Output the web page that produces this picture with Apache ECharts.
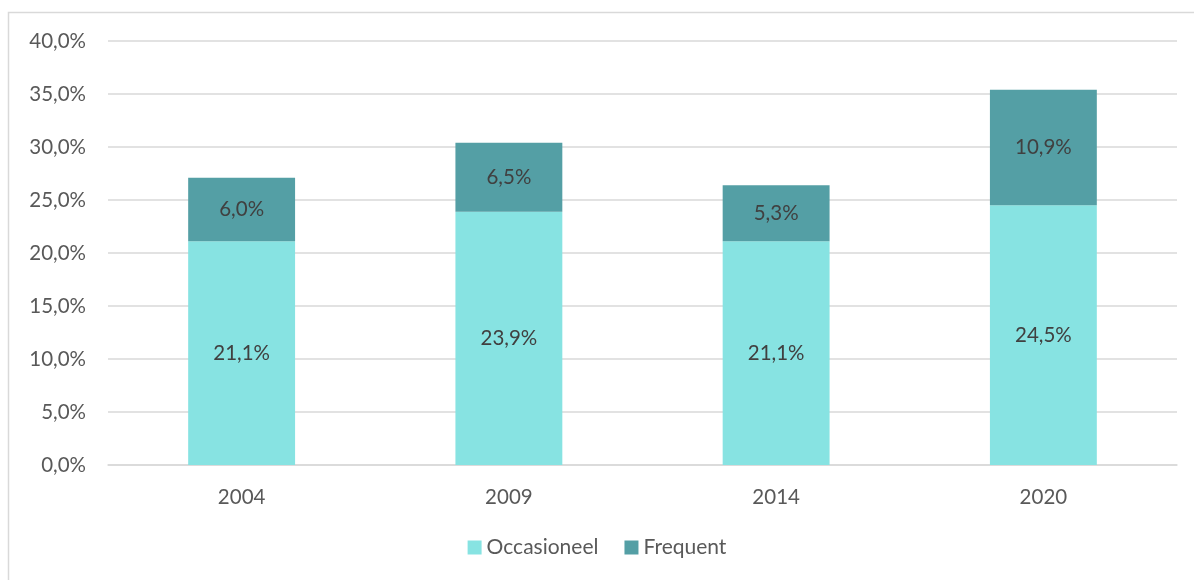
<!DOCTYPE html>
<html><head><meta charset="utf-8">
<script src="https://cdn.jsdelivr.net/npm/echarts@6/dist/echarts.min.js"></script>
<style>html,body{margin:0;padding:0;background:#fff}#c{width:1194px;height:580px}</style>
</head><body><div id="c"></div>
<script>
const categories = ['2004', '2009', '2014', '2020'];
const occasioneel = [21.1, 23.9, 21.1, 24.5];
const frequent = [6.0, 6.5, 5.3, 10.9];
const yTicks = [0, 5, 10, 15, 20, 25, 30, 35, 40];

const fmt = v => v.toFixed(1).replace('.', ',') + '%';
const FONT = 'Lato';
const chart = echarts.init(document.getElementById('c'));
chart.setOption({
  animation: false,
  textStyle: { fontFamily: FONT },
  graphic: [{ type: 'rect', shape: { x: 8.5, y: 12.5, width: 1300, height: 700 }, style: { fill: 'none', stroke: '#d9d9d9', lineWidth: 1.5 }, silent: true, z: -10 }],
  grid: { left: 108, right: 17, top: 41, bottom: 115 },
  legend: {
    bottom: 17, left: 'center', itemWidth: 14, itemHeight: 14, itemGap: 26,
    icon: 'rect',
    textStyle: { fontSize: 21, color: '#595959', fontFamily: FONT },
    data: ['Occasioneel', 'Frequent']
  },
  xAxis: {
    type: 'category', data: categories,
    axisLine: { lineStyle: { color: '#d9d9d9', width: 1.5 } },
    axisTick: { show: false },
    axisLabel: { fontSize: 20.5, color: '#595959', margin: 22 }
  },
  yAxis: {
    type: 'value', min: yTicks[0], max: yTicks[yTicks.length - 1], interval: 5,
    axisLine: { show: false }, axisTick: { show: false },
    splitLine: { lineStyle: { color: '#d9d9d9', width: 1.5 } },
    axisLabel: { fontSize: 20.5, color: '#595959', margin: 22, formatter: v => fmt(v) }
  },
  series: [
    { name: 'Occasioneel', type: 'bar', stack: 's', data: occasioneel, barWidth: '40%',
      itemStyle: { color: '#87e3e2' },
      label: { show: true, position: 'inside', color: '#404040', fontSize: 20.5, formatter: p => fmt(p.value) } },
    { name: 'Frequent', type: 'bar', stack: 's', data: frequent, barWidth: '40%',
      itemStyle: { color: '#549fa5' },
      label: { show: true, position: 'inside', color: '#404040', fontSize: 20.5, formatter: p => fmt(p.value) } }
  ]
});
</script></body></html>
